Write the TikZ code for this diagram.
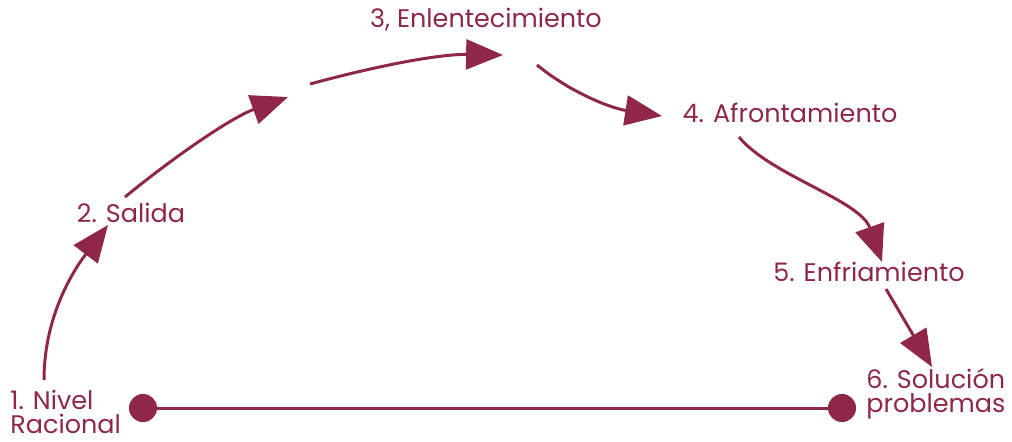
\documentclass[tikz,border=0pt]{standalone}
\usepackage{fontspec}
\setmainfont{Poppins}
\usetikzlibrary{arrows.meta}
\definecolor{vino}{HTML}{8E2846}
\tikzset{
    fase/.style = {text = vino, inner sep = 0pt, font = \fontsize{14.5}{13.5}\selectfont},
    flecha/.style = {vino, line width = 1.7pt, -{Triangle[length = 21pt, width = 17pt]}},
    punto/.style = {circle, fill = vino, minimum size = 16pt, inner sep = 0pt}
}
\begin{document}
\begin{tikzpicture}[x = 0.02cm, y = -0.02cm]
                \useasboundingbox (0, 0) rectangle (1012, 441);
                % etapas
                \node [fase, anchor = west, align = left] (nivel) at (10, 412) {1. Nivel\\Racional};
                \node [fase] (salida) at (131, 213) {2. Salida};
                \node [fase] (enlent) at (486, 20) {3, Enlentecimiento};
                \node [fase] (afront) at (790, 113) {4. Afrontamiento};
                \node [fase] (enfria) at (869, 272) {5. Enfriamiento};
                \node [fase, anchor = west, align = left] (solucion) at (866, 394) {6. Solución\\problemas};
                \node [punto] (p1) at (143, 408) {};
                \node [punto] (p6) at (842, 408) {};
                \draw [vino, line width = 1.7pt] (p1) -- (p6);
                % extremos de las flechas
                \coordinate (a1) at (44, 380);   \coordinate (b1) at (108, 225);
                \coordinate (a2) at (125, 197);  \coordinate (b2) at (288, 97);
                \coordinate (a3) at (310, 84);   \coordinate (b3) at (503, 55);
                \coordinate (a4) at (537, 65);   \coordinate (b4) at (662, 116);
                \coordinate (a5) at (739, 137);  \coordinate (b5) at (882, 262);
                \coordinate (a6) at (886, 289);  \coordinate (b6) at (932, 367);
                \draw [flecha] 
                    (a1) .. controls (44, 320) and (70, 275) .. (b1);
                \draw [flecha] 
                    (a2) .. controls (170, 160) and (230, 118) .. (b2);
                \draw [flecha] 
                    (a3) .. controls (380, 65) and (440, 54) .. (b3);
                \draw [flecha] 
                    (a4) .. controls (570, 92) and (610, 108) .. (b4);
                \draw [flecha] 
                    (a5) .. controls (770, 175) and (860, 200) .. (b5);
                \draw [flecha] (a6) -- (b6);
            \end{tikzpicture}
\end{document}
